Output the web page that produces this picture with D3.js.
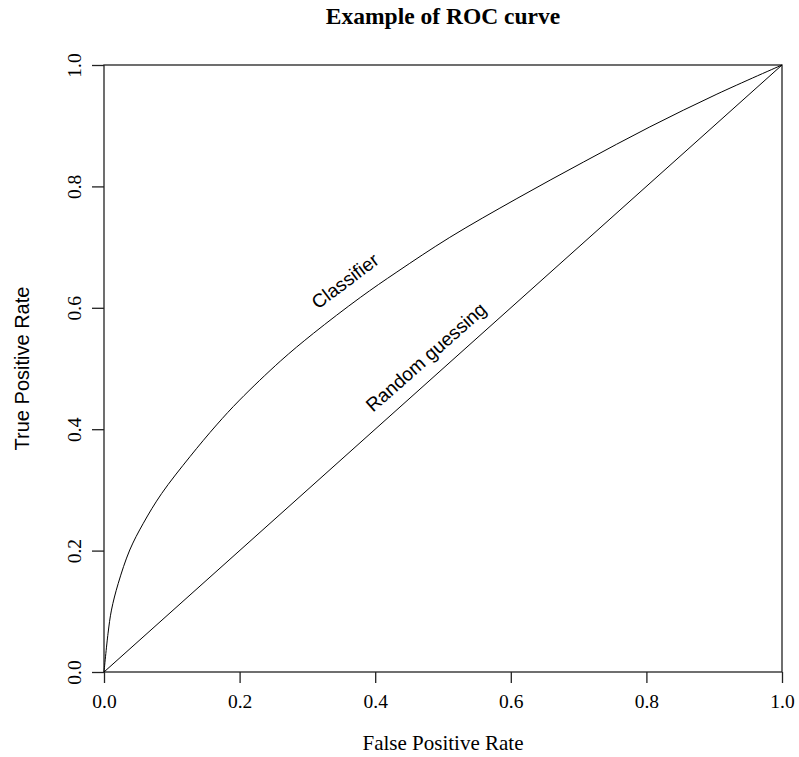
<!DOCTYPE html>
<html>
<head>
<meta charset="utf-8">
<script src="https://cdn.jsdelivr.net/npm/d3@7"></script>
<style>
  body { margin: 0; background: #fff; }
  svg text { fill: #000; }
</style>
</head>
<body>
<svg id="chart" width="799" height="757"></svg>
<script>
// ROC curve
var fpr = [0, 0.006, 0.011, 0.021, 0.038, 0.058, 0.085, 0.127, 0.166, 0.2, 0.26, 0.309, 0.378, 0.432, 0.51, 0.609, 0.707, 0.805, 0.904, 1];
var tpr = [0, 0.064, 0.102, 0.146, 0.201, 0.245, 0.294, 0.355, 0.407, 0.448, 0.512, 0.558, 0.617, 0.659, 0.716, 0.78, 0.84, 0.898, 0.952, 1];
var diagonal = [0, 1];
var tickValues = [0, 0.2, 0.4, 0.6, 0.8, 1.0];
var tickLabels = ["0.0", "0.2", "0.4", "0.6", "0.8", "1.0"];

(function() {
  var svg = d3.select("#chart");
  var plotL = 104, plotR = 782, plotT = 65, plotB = 672;
  var serif = "'Liberation Serif', 'Times New Roman', serif";
  var sans = "'Liberation Sans', Arial, sans-serif";

  var x = d3.scaleLinear().domain([0, 1]).range([plotL, plotR]);
  var y = d3.scaleLinear().domain([0, 1]).range([plotB, plotT]);

  // title
  svg.append("text")
    .attr("x", (plotL + plotR) / 2).attr("y", 24)
    .attr("text-anchor", "middle")
    .style("font-family", serif)
    .style("font-weight", "bold")
    .style("font-size", "23.5px")
    .text("Example of ROC curve");

  // x axis
  var xAxis = svg.append("g")
    .attr("transform", "translate(0," + plotB + ")")
    .call(d3.axisBottom(x).tickValues(tickValues)
      .tickFormat(function(d, i) { return tickLabels[i]; })
      .tickSize(11).tickSizeOuter(0).tickPadding(11));
  xAxis.select(".domain").remove();
  xAxis.selectAll("line").attr("stroke", "#222").attr("stroke-width", 1.3);
  xAxis.selectAll("text")
    .style("font-family", serif)
    .style("font-size", "19.5px");

  // y axis, labels turned on their side like base R
  var yAxis = svg.append("g")
    .attr("transform", "translate(" + plotL + ",0)")
    .call(d3.axisLeft(y).tickValues(tickValues)
      .tickFormat(function(d, i) { return tickLabels[i]; })
      .tickSize(12).tickSizeOuter(0));
  yAxis.select(".domain").remove();
  yAxis.selectAll("line").attr("stroke", "#222").attr("stroke-width", 1.3);
  yAxis.selectAll("text")
    .attr("x", null).attr("dy", null)
    .attr("text-anchor", "middle")
    .attr("transform", "translate(-23,0) rotate(-90)")
    .style("font-family", serif)
    .style("font-size", "19.5px");

  // box
  svg.append("rect")
    .attr("x", plotL).attr("y", plotT)
    .attr("width", plotR - plotL).attr("height", plotB - plotT)
    .attr("fill", "none").attr("stroke", "#222").attr("stroke-width", 1.3);

  // axis titles
  svg.append("text")
    .attr("x", (plotL + plotR) / 2).attr("y", 750)
    .attr("text-anchor", "middle")
    .style("font-family", serif)
    .style("font-size", "21px")
    .text("False Positive Rate");

  svg.append("text")
    .attr("transform", "translate(29," + ((plotT + plotB) / 2) + ") rotate(-90)")
    .attr("text-anchor", "middle")
    .style("font-family", sans)
    .style("font-size", "20px")
    .text("True Positive Rate");

  // curves
  var line = d3.line().curve(d3.curveCatmullRom.alpha(0.5))
    .x(function(d) { return x(d[0]); })
    .y(function(d) { return y(d[1]); });

  svg.append("path")
    .datum(d3.zip(fpr, tpr))
    .attr("d", line)
    .attr("fill", "none").attr("stroke", "#000").attr("stroke-width", 1);

  svg.append("path")
    .datum(d3.zip(diagonal, diagonal))
    .attr("d", d3.line().x(function(d) { return x(d[0]); }).y(function(d) { return y(d[1]); }))
    .attr("fill", "none").attr("stroke", "#000").attr("stroke-width", 1);

  // curve labels
  svg.append("text")
    .attr("transform", "translate(345,281) rotate(-37)")
    .attr("text-anchor", "middle").attr("dy", "0.35em")
    .style("font-family", sans)
    .style("font-size", "19px")
    .text("Classifier");

  svg.append("text")
    .attr("transform", "translate(426,357) rotate(-41.5)")
    .attr("text-anchor", "middle").attr("dy", "0.35em")
    .style("font-family", sans)
    .style("font-size", "19px")
    .text("Random guessing");
})();
</script>
</body>
</html>
